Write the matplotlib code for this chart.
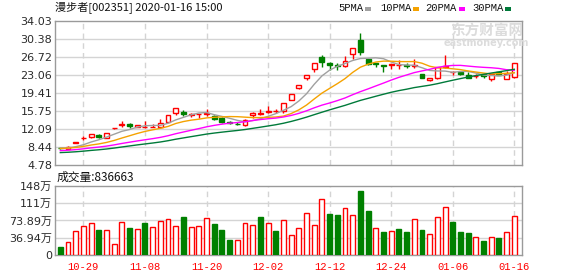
import matplotlib
matplotlib.use('Agg')
import matplotlib.pyplot as plt
from matplotlib.patches import Rectangle
import numpy as np
import pandas as pd

plt.rcParams['font.family'] = ['DejaVu Sans', 'Noto Sans CJK SC']

# ---------------- data ----------------
dates = ['10-24', '10-25', '10-28', '10-29', '10-30', '10-31',
         '11-01', '11-04', '11-05', '11-06', '11-07', '11-08', '11-11', '11-12',
         '11-13', '11-14', '11-15', '11-18', '11-19', '11-20', '11-21', '11-22',
         '11-25', '11-26', '11-27', '11-28', '11-29',
         '12-02', '12-03', '12-04', '12-05', '12-06', '12-09', '12-10', '12-11',
         '12-12', '12-13', '12-16', '12-17', '12-18', '12-19', '12-20', '12-23',
         '12-24', '12-25', '12-26', '12-27', '12-30', '12-31',
         '01-02', '01-03', '01-06', '01-07', '01-08', '01-09', '01-10', '01-13',
         '01-14', '01-15', '01-16']

opens = [8.22, 8.00, 9.33, 10.20, 10.55, 10.90, 10.30, 12.30, 13.00, 13.10,
         12.60, 12.50, 12.50, 12.45, 13.60, 15.30, 15.60, 15.00, 15.10, 15.10,
         14.80, 14.30, 13.50, 13.20, 12.95, 14.85, 15.05, 15.45, 15.70, 15.70,
         18.00, 20.50, 22.40, 24.30, 26.80, 25.60, 25.00, 24.80, 27.30, 30.20,
         26.30, 25.40, 25.10, 25.10, 25.00, 25.00, 24.90, 23.20, 22.10, 22.40,
         24.70, 23.60, 23.70, 23.10, 22.80, 23.20, 22.20, 23.60, 22.30, 22.60]
highs = [8.30, 8.60, 9.35, 10.60, 11.10, 11.00, 11.25, 12.33, 13.70, 13.30,
         13.00, 13.70, 13.20, 14.10, 14.95, 16.35, 15.95, 15.30, 15.20, 16.10,
         14.90, 14.50, 13.70, 13.50, 14.20, 15.45, 16.10, 16.80, 16.10, 17.35,
         19.20, 21.10, 23.10, 25.50, 27.10, 25.80, 25.60, 26.90, 28.60, 31.50,
         26.40, 25.45, 25.15, 25.25, 26.10, 25.60, 26.40, 23.30, 22.50, 24.70,
         27.10, 23.90, 23.80, 23.60, 23.20, 23.30, 23.30, 23.70, 23.80, 25.60]
lows = [8.10, 7.95, 9.33, 9.80, 10.20, 10.30, 10.20, 12.10, 12.40, 12.30,
        12.50, 12.35, 12.40, 12.30, 13.50, 14.90, 14.80, 14.50, 14.40, 14.80,
        14.00, 13.30, 13.10, 13.00, 12.70, 14.40, 14.90, 15.30, 15.30, 15.40,
        17.90, 20.20, 22.00, 23.70, 24.70, 24.10, 24.10, 24.70, 26.30, 27.10,
        25.00, 24.70, 23.70, 24.30, 24.30, 24.40, 24.40, 22.40, 21.90, 22.30,
        24.50, 23.10, 23.00, 22.45, 22.50, 22.50, 21.80, 23.00, 22.20, 22.50]
closes = [8.15, 8.50, 9.35, 10.26, 11.00, 10.40, 11.20, 12.32, 13.20, 12.80,
          12.85, 12.60, 12.60, 13.30, 14.90, 16.30, 15.20, 15.15, 15.15, 15.40,
          14.10, 13.45, 13.25, 13.05, 13.95, 15.35, 15.30, 15.65, 15.80, 17.30,
          19.15, 21.00, 23.05, 25.40, 25.80, 25.00, 24.85, 25.90, 28.50, 27.80,
          25.30, 25.30, 24.95, 25.20, 25.10, 24.90, 25.00, 22.50, 22.40, 24.60,
          24.80, 23.75, 23.30, 22.50, 22.90, 22.80, 23.20, 23.10, 23.20, 25.50]
# estimated closes of the sessions before the window (needed for the MA lines)
prior_closes = [6.40, 6.45, 6.50, 6.45, 6.55, 6.50, 6.55, 6.60, 6.50, 6.55,
                6.80, 6.90, 7.00, 7.10, 7.20, 7.30, 7.35, 7.45, 7.60, 7.80,
                7.90, 8.00, 8.10, 8.20, 8.15, 8.20, 8.25, 8.30, 8.20]

# volume in 万 (10k) units
volumes = [17.1, 27.1, 51.4, 61.4, 67.8, 53.5, 52.8, 22.9, 70.0, 57.8,
           55.0, 68.5, 59.3, 72.8, 76.4, 62.1, 81.4, 59.2, 61.4, 78.5,
           66.4, 53.5, 32.8, 32.1, 67.8, 63.5, 81.4, 67.8, 51.4, 74.2,
           42.1, 57.1, 90.0, 63.5, 119.2, 87.8, 84.9, 99.9, 84.9, 137.0,
           94.2, 57.1, 49.3, 51.4, 55.7, 49.3, 76.4, 53.5, 44.2, 80.6,
           102.0, 71.4, 49.3, 47.1, 37.8, 30.0, 37.8, 36.4, 48.5, 83.6663]
# 1 = red (up) volume bar, 0 = green
vol_up = [0, 1, 1, 1, 1, 0, 1, 1, 1, 0, 1, 0, 1, 1, 1, 1, 0, 1, 1, 1,
          0, 0, 0, 1, 1, 1, 0, 1, 0, 1, 1, 1, 1, 1, 1, 0, 0, 1, 1, 0,
          0, 1, 0, 1, 0, 0, 1, 0, 1, 1, 1, 0, 0, 0, 1, 0, 1, 0, 1, 1]

x_tick_labels = ['10-29', '11-08', '11-20', '12-02', '12-12', '12-24', '01-06', '01-16']
price_ticks = [4.78, 8.44, 12.09, 15.75, 19.41, 23.06, 26.72, 30.38, 34.03]
price_tick_labels = ['4.78', '8.44', '12.09', '15.75', '19.41', '23.06', '26.72', '30.38', '34.03']
vol_ticks = [0, 36.94, 73.89, 110.83, 147.77]
vol_tick_labels = ['0', '36.94万', '73.89万', '111万', '148万']
ma_windows = [5, 10, 20, 30]
ma_names = ['5PMA', '10PMA', '20PMA', '30PMA']
ma_colors = ['#a0a0a0', '#f5a200', '#ff00ff', '#007a3a']

title = '漫步者[002351] 2020-01-16 15:00'
vol_title = '成交量:836663'

# ---------------- styles ----------------
RED = '#ff0000'
GREEN = '#008000'
GRID = '#d4d4d4'
SPINE = '#9a9a9a'
W, H = 578, 276

fig = plt.figure(figsize=(W / 100, H / 100), dpi=100)
fig.patch.set_facecolor('white')


def rect(l, t, r, b):
    return [l / W, 1 - b / H, (r - l) / W, (b - t) / H]


ax = fig.add_axes(rect(55, 21, 522, 165))
axv = fig.add_axes(rect(55, 186, 522, 255))

n = len(closes)
x = np.arange(n)
tick_pos = [dates.index(d) for d in x_tick_labels]
bw = 0.64

for a in (ax, axv):
    a.set_xlim(-0.69, 60.0)
    for s in a.spines.values():
        s.set_color(SPINE)
        s.set_linewidth(1)
    a.tick_params(length=0, labelsize=8, colors='#2a2a2a', pad=2)
    for p in tick_pos:
        a.axvline(p, color=GRID, lw=1, ls=(0, (4, 3)), zorder=1)

# price panel
ax.set_ylim(price_ticks[0], price_ticks[-1])
ax.set_yticks(price_ticks)
ax.set_yticklabels(price_tick_labels)
ax.set_xticks([])
for yt in price_ticks[1:-1]:
    ax.axhline(yt, color=GRID, lw=1, zorder=1)

for i in range(n):
    o, h, l, c = opens[i], highs[i], lows[i], closes[i]
    up = c >= o
    col = RED if up else GREEN
    ax.vlines(x[i], l, h, color=col, lw=1, zorder=3)
    bot = min(o, c)
    ht = max(abs(c - o), 0.06)
    ax.add_patch(Rectangle((x[i] - bw / 2, bot), bw, ht,
                           facecolor='white' if up else col,
                           edgecolor=col, lw=1, zorder=4))

all_close = pd.Series(prior_closes + closes)
for w, colr in zip(ma_windows, ma_colors):
    ma = all_close.rolling(w).mean().iloc[len(prior_closes):].to_numpy()
    ax.plot(x, ma, color=colr, lw=1, zorder=5)

# volume panel
axv.set_ylim(0, vol_ticks[-1])
axv.set_yticks(vol_ticks)
axv.set_yticklabels(vol_tick_labels)
for yt in vol_ticks[1:-1]:
    axv.axhline(yt, color=GRID, lw=1, zorder=1)
axv.set_xticks(tick_pos)
axv.set_xticklabels(x_tick_labels, color=RED, fontsize=7.6,
                    family=['Liberation Mono', 'DejaVu Sans Mono'])
axv.tick_params(axis='x', pad=5, colors=RED)
for i in range(n):
    col = RED if vol_up[i] else GREEN
    axv.add_patch(Rectangle((x[i] - bw / 2, 0), bw, volumes[i],
                            facecolor='white' if vol_up[i] else col,
                            edgecolor=col, lw=1, zorder=3))

# texts
fig.text(55 / W, 1 - 8 / H, title, ha='left', va='center', fontsize=8,
         family=['Noto Sans CJK SC', 'DejaVu Sans'], color='#111111')
fig.text(57 / W, 1 - 177 / H, vol_title, ha='left', va='center', fontsize=8.5,
         family=['Noto Sans CJK SC', 'DejaVu Sans'], color='#111111')

lx = [338, 380, 425, 472]
sq = [365, 413, 459, 505]
for name, colr, tx, sx in zip(ma_names, ma_colors, lx, sq):
    fig.text(tx / W, 1 - 8 / H, name, ha='left', va='center', fontsize=7.6,
             family=['Liberation Mono', 'DejaVu Sans Mono'], color='#111111')
    fig.patches.append(Rectangle((sx / W, 1 - 11 / H), 6 / W, 4 / H,
                                 transform=fig.transFigure, facecolor=colr,
                                 edgecolor='none'))

# watermark
fig.text(487 / W, 1 - 31 / H, '东方财富网', ha='center', va='center', fontsize=10.5,
         fontweight='bold', family=['Noto Sans CJK SC'], color='#dcdcdc', zorder=0.5)
fig.text(486 / W, 1 - 43 / H, 'eastmoney.com', ha='center', va='center', fontsize=7,
         fontweight='bold', family=['DejaVu Sans'], color='#dcdcdc', zorder=0.5)

fig.savefig('out.png', dpi=100, facecolor='white')
